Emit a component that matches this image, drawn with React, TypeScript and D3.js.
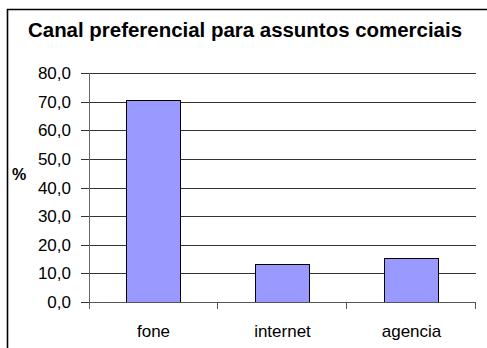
import React, { useEffect, useRef } from "react";
import * as d3 from "d3";

const categories = ["fone", "internet", "agencia"];
const values = [70.7, 13.3, 15.3];
const yTicks = [0, 10, 20, 30, 40, 50, 60, 70, 80];
const title = "Canal preferencial para assuntos comerciais";
const yLabel = "%";

export default function App() {
  const ref = useRef<SVGSVGElement>(null);
  useEffect(() => {
    const svg = d3.select(ref.current);
    svg.selectAll("*").remove();
    const left = 89, right = 476, top = 73, bottom = 302;
    const font = "Arial, 'Liberation Sans', sans-serif";
    const x = d3.scaleBand().domain(categories).range([left, right]).paddingInner(0.58).paddingOuter(0.29);
    const xb = d3.scaleBand().domain(categories).range([left, right]);
    const y = d3.scaleLinear().domain([0, 80]).range([bottom, top]);

    svg.append("rect").attr("width", 487).attr("height", 348).attr("fill", "#fff");
    svg.append("path").attr("d", "M7.5,360V9.5H500").attr("fill", "none").attr("stroke", "#000").attr("stroke-width", 1.6);

    svg.append("text").attr("x", 245).attr("y", 37).attr("text-anchor", "middle")
      .attr("font-family", font).attr("font-size", 20).attr("font-weight", "bold")
      .attr("textLength", 434).attr("lengthAdjust", "spacingAndGlyphs").text(title);

    // gridlines
    svg.append("g").selectAll("line").data(yTicks.filter(d => d > 0)).join("line")
      .attr("x1", left).attr("x2", right)
      .attr("y1", d => Math.round(y(d)) + 0.5).attr("y2", d => Math.round(y(d)) + 0.5)
      .attr("stroke", "#333").attr("stroke-width", 1);

    // y axis
    svg.append("line").attr("x1", left + 0.5).attr("x2", left + 0.5).attr("y1", top).attr("y2", bottom + 7)
      .attr("stroke", "#666");
    svg.append("g").selectAll("line").data(yTicks).join("line")
      .attr("x1", 81).attr("x2", left).attr("y1", d => Math.round(y(d)) + 0.5).attr("y2", d => Math.round(y(d)) + 0.5)
      .attr("stroke", "#333");
    svg.append("g").selectAll("text").data(yTicks).join("text")
      .attr("x", 71).attr("y", d => y(d)).attr("dy", "0.36em").attr("text-anchor", "end")
      .attr("font-family", font).attr("font-size", 17).text(d => d3.format(".1f")(d).replace(".", ","));

    svg.append("text").attr("x", 19).attr("y", 174).attr("dy", "0.36em").attr("text-anchor", "middle")
      .attr("font-family", font).attr("font-size", 16).attr("font-weight", "bold").text(yLabel);

    // bars
    svg.append("g").selectAll("rect").data(categories).join("rect")
      .attr("x", d => Math.round(x(d)!) + 0.5).attr("width", Math.round(x.bandwidth()))
      .attr("y", (d, i) => Math.round(y(values[i])) + 0.5).attr("height", (d, i) => Math.round(bottom - y(values[i])))
      .attr("fill", "#9999FF").attr("stroke", "#000").attr("stroke-width", 1);

    // x axis
    svg.append("line").attr("x1", left).attr("x2", right).attr("y1", bottom + 0.5).attr("y2", bottom + 0.5).attr("stroke", "#555");
    svg.append("g").selectAll("line").data(categories).join("line")
      .attr("x1", d => Math.round(xb(d)! + xb.bandwidth()) - 0.5).attr("x2", d => Math.round(xb(d)! + xb.bandwidth()) - 0.5)
      .attr("y1", bottom).attr("y2", bottom + 7).attr("stroke", "#555");
    svg.append("g").selectAll("text").data(categories).join("text")
      .attr("x", d => xb(d)! + xb.bandwidth() / 2).attr("y", 337).attr("text-anchor", "middle")
      .attr("font-family", font).attr("font-size", 17).text(d => d);
  }, []);
  return (
    <svg ref={ref} width={487} height={348} style={{ position: "fixed", left: 0, top: 0 }} />
  );
}
